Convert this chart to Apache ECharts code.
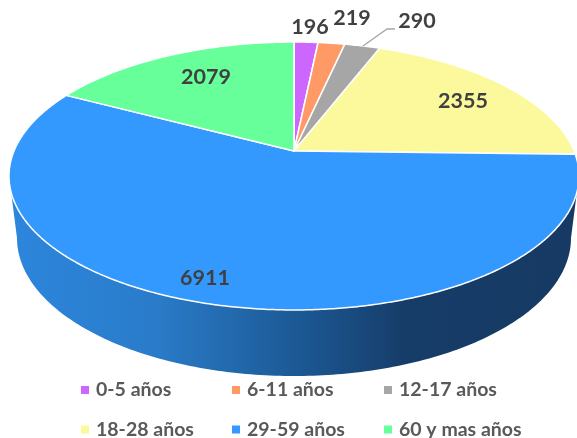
<!DOCTYPE html>
<html>
<head>
<meta charset="utf-8">
<style>
  html, body { margin: 0; padding: 0; background: #fff; }
  #main { width: 577px; height: 438px; }
</style>
<script src="https://cdn.jsdelivr.net/npm/echarts@6/dist/echarts.min.js"></script>
</head>
<body>
<div id="main"></div>
<script>
var categories = ['0-5 años', '6-11 años', '12-17 años', '18-28 años', '29-59 años', '60 y mas años'];
var values = [196, 219, 290, 2355, 6911, 2079];
var colors = ['#CC66FF', '#FF9966', '#A6A6A6', '#FBF99B', '#3399FF', '#66FF99'];

// where each number sits (Excel placed them by hand, not on the slice middle)
var labelSpots = [[310, 27], [352, 18], [417, 21], [463, 101], [205, 278], [206, 77]];

var total = 0;
for (var i = 0; i < values.length; i++) total += values[i];

// tilted disc: the unit circle goes through a perspective so the apex sits above the middle
var apexX = 294, apexY = 151, spanX = 280, spanY = 129.3, depth = 0.1866;

function project(deg) {
    var rad = deg * Math.PI / 180;
    var u = Math.sin(rad), v = Math.cos(rad);
    var w = 1 + depth * v;
    return [apexX + spanX * u / w, apexY - spanY * v / w];
}

function renderSlice(index) {
    return function (params, api) {
        var before = 0;
        for (var i = 0; i < index; i++) before += values[i];
        var start = before / total * 360;
        var end = (before + api.value(0)) / total * 360;
        var points = [[apexX, apexY]];
        for (var a = start; a < end; a += 0.5) points.push(project(a));
        points.push(project(end));

        var children = [{
            type: 'polygon',
            shape: { points: points },
            style: { fill: colors[index], stroke: '#fff', lineWidth: 1.5, lineJoin: 'round' }
        }];
        // leader line of the grey slice
        if (index == 2) {
            children.push({
                type: 'polyline',
                shape: { points: [[363, 46], [387, 29], [395, 29]] },
                style: { fill: 'none', stroke: '#A6A6A6', lineWidth: 1.3 }
            });
        }
        children.push({
            type: 'text',
            z2: 10,
            style: {
                x: labelSpots[index][0],
                y: labelSpots[index][1],
                text: String(api.value(0)),
                fill: '#404040',
                font: 'bold 21.5px Lato',
                align: 'center',
                verticalAlign: 'middle'
            }
        });
        return { type: 'group', children: children };
    };
}

function renderWall() {
    var points = [];
    var a;
    for (a = 7; a <= 173; a += 1) {
        var r1 = a * Math.PI / 180;
        points.push([294 + 285 * Math.cos(r1), 176 + 134 * Math.sin(r1)]);
    }
    for (a = 180; a >= 0; a -= 1) {
        var r2 = a * Math.PI / 180;
        points.push([294 + 277 * Math.cos(r2), 238 + 138 * Math.sin(r2)]);
    }
    return {
        type: 'polygon',
        shape: { points: points },
        style: {
            fill: new echarts.graphic.LinearGradient(0, 0, 1, 0, [
                { offset: 0, color: '#2C86DC' },
                { offset: 0.25, color: '#2A7CCA' },
                { offset: 0.5, color: '#1C5A96' },
                { offset: 0.7, color: '#163C68' },
                { offset: 1, color: '#163A63' }
            ])
        }
    };
}

var series = [{
    name: 'wall',
    type: 'custom',
    coordinateSystem: 'none',
    silent: true,
    renderItem: renderWall,
    data: [[0]]
}];
for (var s = 0; s < categories.length; s++) {
    series.push({
        name: categories[s],
        type: 'custom',
        coordinateSystem: 'none',
        itemStyle: { color: colors[s] },
        renderItem: renderSlice(s),
        encode: { value: 0 },
        data: [[values[s]]]
    });
}

function legendColumn(left, names) {
    return {
        orient: 'vertical',
        left: left,
        top: 380,
        height: 70,
        padding: 0,
        itemGap: 19.5,
        itemWidth: 8,
        itemHeight: 8,
        icon: 'rect',
        selectedMode: false,
        data: names,
        textStyle: {
            color: '#595959',
            fontFamily: 'Lato',
            fontWeight: 'bold',
            fontSize: 19.5,
            padding: [0, 0, 0, 2]
        }
    };
}

var myChart = echarts.init(document.getElementById('main'));
myChart.setOption({
    animation: false,
    backgroundColor: '#fff',
    legend: [
        legendColumn(81, [categories[0], categories[3]]),
        legendColumn(232, [categories[1], categories[4]]),
        legendColumn(384, [categories[2], categories[5]])
    ],
    series: series
});
</script>
</body>
</html>
